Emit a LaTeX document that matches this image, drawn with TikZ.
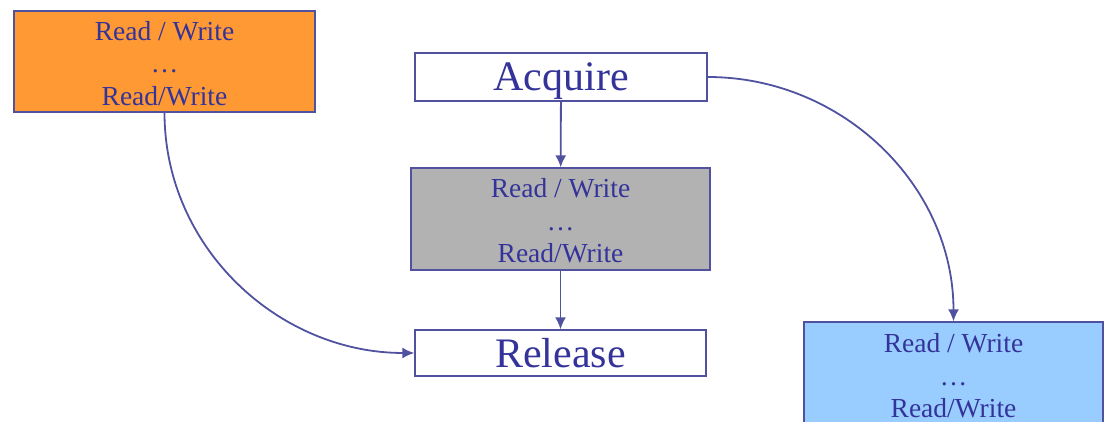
\documentclass[tikz,border=0pt]{standalone}
\usepackage{fontspec}
\setmainfont{Liberation Serif}
\usetikzlibrary{arrows.meta}
\definecolor{txt}{RGB}{51,51,153}
\definecolor{ln}{RGB}{80,82,160}
\definecolor{orng}{RGB}{255,153,51}
\definecolor{gry}{RGB}{178,178,178}
\definecolor{blu}{RGB}{153,204,255}
\newcommand{\rwtext}{\rule{0pt}{23pt}Read / Write\\…\\Read/Write}
\tikzset{
  box/.style={draw=ln, line width=1.3pt, inner sep=0pt, align=center, text=txt},
  rw/.style={box, font=\fontsize{27.5}{32.5}\selectfont},
  big/.style={box, fill=white, font=\fontsize{42}{44}\selectfont, text height=37pt, text depth=9pt},
  arr/.style={draw=ln, line width=1.8pt, -{Latex[length=12pt,width=11pt]}}
}
\begin{document}
\begin{tikzpicture}[x=1pt,y=-1pt]
\useasboundingbox (0,0) rectangle (1106,422);
\node[rw, fill=orng, minimum width=301pt, minimum height=101pt] (orange) at (164.5,61.5) {\rwtext};
\node[big, minimum width=292pt, minimum height=48pt] (acq) at (561,77) {Acquire};
\node[rw, fill=gry, minimum width=299pt, minimum height=102pt] (gray) at (560.5,219) {\rwtext};
\node[big, minimum width=291pt, minimum height=46pt] (rel) at (560.5,353) {Release};
\node[rw, fill=blu, minimum width=299pt, minimum height=104pt] (blue) at (953.5,374) {\rwtext};
\draw[arr] (acq) -- (gray);
\draw[arr] (gray) -- (rel);
\draw[arr] (orange.south) to[out=-90,in=180] (rel.west);
\draw[arr] (acq.east) to[out=0,in=90] (blue.north);
\end{tikzpicture}
\end{document}
